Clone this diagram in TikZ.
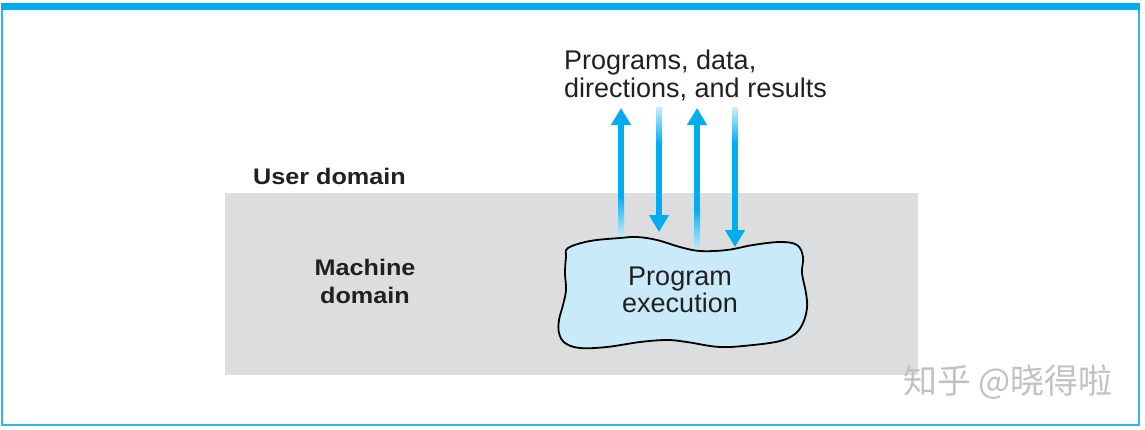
\documentclass[tikz,border=0pt]{standalone}
\usepackage{fontspec}
\setmainfont{Liberation Sans}
\newfontfamily\wideboldfont[FakeStretch=1.12]{Liberation Sans}
\newfontfamily\cjkfont{Noto Sans CJK SC}
\usetikzlibrary{arrows.meta,calc}
\definecolor{cyanB}{HTML}{00AEEF}
\definecolor{paleB}{HTML}{CDEDFB}
\definecolor{cloudF}{HTML}{C9EAF9}
\definecolor{grayBG}{HTML}{DCDDDE}
\definecolor{frameB}{HTML}{2DB7EA}
\definecolor{textK}{HTML}{231F20}
\definecolor{wmark}{HTML}{C2C2C2}
\begin{document}
\begin{tikzpicture}[x=1bp,y=-1bp,
  lbl/.style={inner sep=0pt, text=textK, font=\fontsize{27bp}{28bp}\selectfont},
  dom/.style={inner sep=0pt, text=textK, font=\wideboldfont\bfseries\fontsize{22.5bp}{28bp}\selectfont},
  flow/.style={draw=cyanB, line width=6bp, -{Triangle[width=19bp,length=17bp]}},
  cloudshape/.style={fill=cloudF, draw=black, line width=1.8bp, line join=round}
]
\useasboundingbox (0,0) rectangle (1145,429);
% frame
\fill[white] (0,0) rectangle (1145,429);
\draw[frameB, line width=1.8bp] (1.8,6) -- (1.8,424.7) -- (1139.2,424.7) -- (1139.2,6);
\fill[cyanB] (1,2.7) rectangle (1140,10);
% machine domain background
\fill[grayBG] (225,193) rectangle (918,375);
% labels
\node[lbl, align=left, anchor=north west] (io) at (564,49.5) {Programs, data,\\directions, and results};
\node[dom, anchor=base west] (user) at (253,184.5) {User domain};
\node[dom, align=center] (machine) at (365,281) {Machine\\domain};
% arrows: tail (t), end of fade (m), head (h)
\coordinate (t1) at (621,238); \coordinate (m1) at (621,196); \coordinate (h1) at (621,108);
\coordinate (t2) at (659,107); \coordinate (m2) at (659,143); \coordinate (h2) at (659,232);
\coordinate (t3) at (697,251); \coordinate (m3) at (697,209); \coordinate (h3) at (697,108);
\coordinate (t4) at (735,107); \coordinate (m4) at (735,143); \coordinate (h4) at (735,247);
\draw[flow] (m1) -- (h1);
\draw[flow] (m2) -- (h2);
\draw[flow] (m3) -- (h3);
\draw[flow] (m4) -- (h4);
\shade[top color=cyanB, bottom color=paleB] ($(m1)+(-3,0.3)$) rectangle ($(t1)+(3,0)$);
\shade[top color=cyanB, bottom color=paleB] ($(m3)+(-3,0.3)$) rectangle ($(t3)+(3,0)$);
\shade[top color=paleB, bottom color=cyanB] ($(t2)+(-3,0)$) rectangle ($(m2)+(3,0.3)$);
\shade[top color=paleB, bottom color=cyanB] ($(t4)+(-3,0)$) rectangle ($(m4)+(3,0.3)$);
% cloud
\draw[cloudshape] plot[smooth cycle, tension=0.6] coordinates {
 (568,248) (590,241) (620,238) (637,237) (657,240) (680,247) (700,251) (727,250)
 (753,245) (780,242) (797,245) (803,257) (802,273) (806,293) (807,308) (803,323)
 (795,334) (780,341) (753,345) (720,347) (687,342) (667,340) (640,342) (607,347)
 (580,348) (565,343) (559,333) (559,320) (563,305) (566,290) (565,273) (566,257)};
\node[lbl, align=center] (exec) at (680,289.5) {Program\\[-0.8bp]execution};
% watermark
\node[inner sep=0pt, anchor=west, text=wmark, font=\cjkfont\fontsize{34bp}{34bp}\selectfont] (wm) at (903,382) {知乎 @晓得啦};
\end{tikzpicture}
\end{document}
